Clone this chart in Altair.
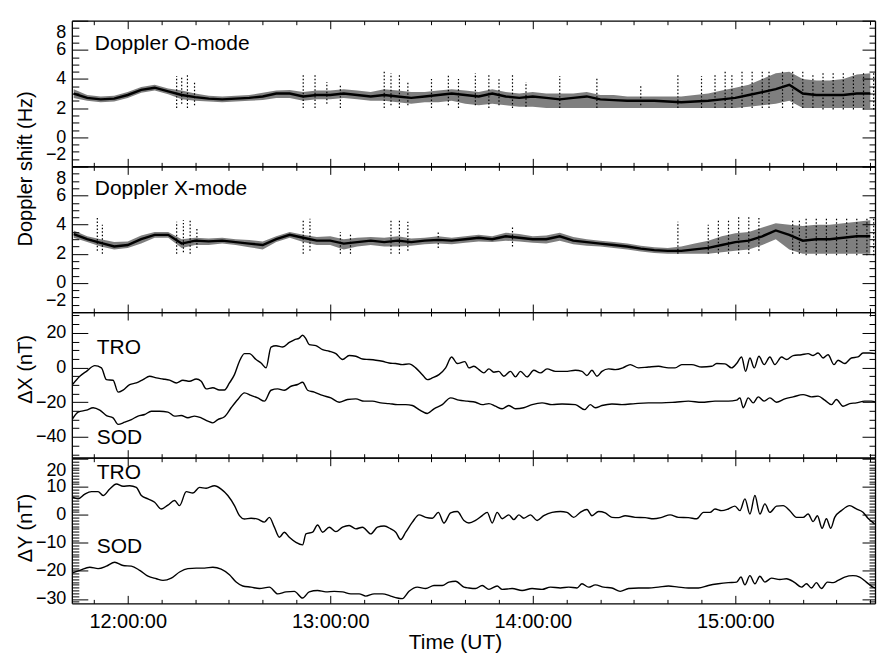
import altair as alt
import pandas as pd

FONT = "Liberation Sans"
W, H = 805, 146
T0, T1 = -16.55, 221.4   # minutes after 12:00 UT (plot edges)

# ---------------- Doppler shift (Hz), minutes after 12:00 UT ----------------
dop_t = [-16, -12, -8, -4, 0, 4, 8, 12, 16, 20, 24, 28, 32, 36, 40, 44, 48, 52, 56, 60,
         64, 68, 72, 76, 80, 84, 88, 92, 96, 100, 104, 108, 112, 116, 120, 124, 128, 132, 136, 140,
         144, 148, 152, 156, 160, 164, 168, 172, 176, 180, 184, 188, 192, 196, 200, 204, 208, 212, 216, 220]
# O-mode: trace centre and dense core of the scatter
o_mid = [3.0, 2.7, 2.6, 2.65, 2.9, 3.25, 3.4, 3.15, 2.9, 2.75, 2.65, 2.6, 2.65, 2.7, 2.8, 3.0, 3.0, 2.8, 2.9, 2.9,
         3.0, 2.9, 2.8, 2.9, 2.8, 2.7, 2.8, 2.9, 3.0, 2.9, 2.8, 3.0, 2.8, 2.7, 2.8, 2.7, 2.6, 2.7, 2.8, 2.6,
         2.55, 2.5, 2.5, 2.5, 2.45, 2.4, 2.45, 2.5, 2.6, 2.7, 2.9, 3.1, 3.3, 3.6, 3.0, 2.9, 2.9, 2.9, 3.0, 3.0]
o_lo = [2.7, 2.5, 2.4, 2.45, 2.7, 3.05, 3.2, 2.95, 2.6, 2.5, 2.45, 2.4, 2.45, 2.5, 2.55, 2.7, 2.7, 2.5, 2.6, 2.6,
        2.7, 2.6, 2.5, 2.5, 2.4, 2.3, 2.4, 2.4, 2.5, 2.3, 2.2, 2.3, 2.2, 2.1, 2.1, 2.0, 2.0, 2.0, 2.0, 2.0,
        2.0, 2.0, 2.0, 2.0, 2.0, 2.0, 2.0, 2.0, 2.0, 2.0, 2.1, 2.2, 2.3, 2.5, 2.0, 2.0, 2.0, 2.0, 2.0, 2.0]
o_hi = [3.3, 2.9, 2.8, 2.85, 3.1, 3.45, 3.6, 3.35, 3.2, 3.0, 2.85, 2.8, 2.85, 2.9, 3.05, 3.2, 3.25, 3.1, 3.2, 3.2,
        3.3, 3.2, 3.1, 3.3, 3.2, 3.1, 3.1, 3.2, 3.3, 3.2, 3.1, 3.3, 3.1, 3.0, 3.1, 3.0, 3.0, 3.0, 3.1, 2.9,
        2.9, 2.8, 2.8, 2.8, 2.8, 2.8, 2.9, 3.0, 3.2, 3.4, 3.6, 4.0, 4.4, 4.5, 4.0, 3.9, 3.9, 4.0, 4.3, 4.4]
# O-mode isolated spikes: time, bottom, top
o_sp_t = [14.5, 16, 17.7, 19.8, 52, 55.5, 59, 63, 76, 78, 80.5, 83, 90, 95, 98, 103, 107, 110, 114, 118,
          128, 139, 152, 163, 170, 174, 177, 179, 182, 185, 188, 190, 194, 197, 200, 203, 206, 209, 212, 215,
          218, 221]
o_sp_lo = [2.0, 2.3, 2.0, 2.2, 2.0, 2.0, 2.3, 2.0, 2.0, 2.2, 2.0, 2.2, 2.0, 2.2, 2.0, 2.2, 2.0, 2.2, 2.0, 2.1,
           2.0, 2.0, 2.2, 2.0, 2.0, 2.0, 2.0, 2.0, 2.0, 2.0, 2.0, 2.0, 2.0, 2.0, 2.0, 2.0, 1.9, 1.9, 1.9, 1.9,
           1.9, 1.9]
o_sp_hi = [4.2, 4.1, 4.3, 3.8, 4.4, 4.4, 3.8, 3.6, 4.5, 4.4, 4.4, 3.8, 4.0, 4.3, 4.0, 4.4, 4.3, 4.1, 4.4, 3.8,
           4.2, 4.1, 3.6, 4.4, 4.2, 4.4, 4.5, 4.3, 4.5, 4.5, 4.5, 4.5, 4.5, 4.5, 4.5, 4.4, 4.5, 4.4, 4.5, 4.5,
           4.5, 4.5]
# X-mode
x_mid = [3.35, 3.0, 2.75, 2.5, 2.6, 3.0, 3.3, 3.3, 2.7, 2.9, 2.85, 2.9, 2.8, 2.7, 2.6, 3.0, 3.3, 3.1, 2.9, 2.9,
         2.7, 2.8, 2.9, 2.8, 2.9, 2.8, 2.9, 2.95, 2.9, 3.0, 3.1, 3.0, 3.2, 3.1, 3.0, 3.0, 3.2, 2.9, 2.8, 2.7,
         2.6, 2.5, 2.35, 2.25, 2.2, 2.2, 2.3, 2.4, 2.6, 2.8, 2.9, 3.2, 3.6, 3.3, 2.9, 3.0, 3.0, 3.1, 3.2, 3.2]
x_lo = [3.1, 2.8, 2.5, 2.3, 2.4, 2.7, 3.1, 3.1, 2.4, 2.6, 2.6, 2.7, 2.6, 2.45, 2.3, 2.8, 3.1, 2.8, 2.6, 2.6,
        2.3, 2.5, 2.6, 2.5, 2.5, 2.55, 2.65, 2.7, 2.65, 2.75, 2.85, 2.8, 2.9, 2.85, 2.75, 2.7, 2.9, 2.65, 2.55, 2.5,
        2.4, 2.3, 2.15, 2.05, 2.0, 2.0, 2.0, 2.0, 2.1, 2.2, 2.3, 2.6, 3.0, 2.3, 2.0, 2.0, 2.0, 2.0, 2.0, 2.0]
x_hi = [3.6, 3.2, 3.0, 2.8, 2.85, 3.25, 3.5, 3.5, 3.0, 3.1, 3.05, 3.1, 3.0, 2.95, 2.85, 3.2, 3.5, 3.3, 3.15, 3.2,
        3.0, 3.1, 3.15, 3.1, 3.2, 3.05, 3.1, 3.2, 3.1, 3.2, 3.3, 3.2, 3.45, 3.35, 3.2, 3.25, 3.45, 3.15, 3.0, 2.9,
        2.8, 2.7, 2.55, 2.45, 2.4, 2.5, 2.7, 2.9, 3.2, 3.4, 3.5, 3.8, 4.1, 4.0, 3.9, 4.0, 4.0, 4.1, 4.2, 4.3]
x_sp_t = [-9, -7.5, 14.5, 16.5, 18.5, 20.5, 52, 54, 63, 66, 78, 80.5, 83, 92, 114, 163, 172, 175, 178, 181,
          184, 187, 197, 199, 201, 204, 207, 210, 213, 216, 219, 221]
x_sp_lo = [2.2, 2.0, 2.0, 2.1, 2.0, 2.4, 2.0, 2.2, 2.0, 2.0, 2.0, 2.0, 2.2, 2.4, 2.5, 2.0, 2.0, 2.0, 2.0, 2.0,
           2.0, 2.2, 2.0, 2.0, 1.9, 1.9, 1.9, 1.9, 1.9, 1.9, 1.9, 1.9]
x_sp_hi = [4.5, 4.0, 4.2, 4.3, 4.3, 3.8, 4.4, 4.4, 3.5, 3.4, 4.4, 4.4, 4.2, 3.6, 3.8, 4.2, 4.0, 4.4, 4.3, 4.5,
           4.5, 4.5, 4.4, 4.3, 4.5, 4.4, 4.5, 4.4, 4.5, 4.5, 4.5, 4.5]

# ---------------- Delta X (nT) ----------------
dx_tro_t = [-16.35, -14.18, -12.21, -9.75, -7.78, -6.30, -4.33, -2.85, -1.38, 0.59, 2.56, 4.53, 6.50, 8.48,
            10.45, 12.42, 14.39, 16.36, 18.33, 20.30, 21.78, 23.25, 25.22, 27.19, 28.67, 30.15, 31.63, 33.11,
            34.58, 36.06, 38.03, 39.51, 40.99, 42.46, 43.94, 45.91, 47.88, 49.36, 50.84, 51.82, 52.81, 53.79,
            55.76, 57.74, 59.71, 61.68, 63.65, 65.62, 67.59, 69.56, 71.53, 73.50, 75.47, 77.44, 79.41, 81.38,
            83.35, 85.32, 87.29, 88.77, 90.25, 92.22, 94.19, 95.96, 97.64, 99.90, 101.09, 102.57, 104.05,
            105.52, 107.00, 108.48, 109.96, 111.43, 113.41, 114.88, 116.36, 118.33, 120.30, 122.27, 124.24,
            126.71, 129.66, 132.62, 134.59, 136.06, 137.54, 139.02, 140.50, 142.47, 144.44, 146.90, 148.87,
            151.34, 154.29, 157.25, 160.20, 162.17, 164.14, 167.10, 170.05, 173.01, 174.49, 176.95, 178.92,
            180.40, 181.88, 183.06, 184.34, 185.62, 187.00, 188.57, 190.25, 191.73, 193.70, 195.18, 197.15,
            199.61, 201.58, 203.06, 204.54, 206.02, 207.49, 209.26, 210.45, 212.42, 214.39, 216.36, 217.84,
            219.81, 221.78]
dx_tro_v = [-9.8, -5, -2.2, 1.1, -0.2, -7, -7.3, -14.2, -13, -9.8, -8.9, -7, -5, -6,
            -6.6, -7.3, -8.9, -7.3, -7.9, -6.6, -7.9, -12.3, -11.7, -13, -13, -8.9, -4.1, 3.6,
            8, 8, 4.6, 2.6, -0.2, 11.8, 12.6, 11.8, 14.5, 16, 17, 18.6, 16.5, 13.2,
            12.6, 10.3, 9.4, 8, 4.6, 6.9, 6.5, 4.9, 4.6, 4.2, 3.6, 2.6, 2.3, 1.7,
            2.1, -0.2, -4.1, -7, -6, -4.1, -0.2, 6.1, 2.3, 3.4, -0.2, 0.7, -1.2,
            -3.1, -0.8, -2.7, -2.2, -5, -2.2, -5.4, -2.2, -5.4, -1.6, -3.1, -0.8,
            -2.2, -2.2, -1.6, -2.2, -4.6, -1.6, -5, -2.2, -0.8, -1.2, 0, 1.7,
            -0.2, 0.3, 0.7, -0.2, -0.2, 1.7, 1.7, 0.3, 0.7, 2.3, 2.1, -0.2,
            2.3, 6.1, -2.2, 5.5, -0.2, 6.5, 1.7, 6.1, 1.7, 6.1, 4.6, 6.9,
            7.4, 8, 6.9, 8.4, 5.5, 7.4, 1.7, 4.2, 2.3, 5.5, 6.1, 8.4,
            8.4, 8]
dx_sod_t = [-16.35, -14.68, -12.21, -10.24, -8.27, -6.30, -4.33, -2.85, -0.88, 1.09, 3.06, 5.03, 7.00, 9.46,
            11.92, 13.89, 15.86, 17.83, 19.81, 21.78, 23.75, 25.22, 26.70, 28.67, 30.64, 32.61, 34.58, 36.55,
            38.52, 40.49, 42.46, 44.44, 46.41, 48.38, 50.35, 51.82, 53.30, 55.27, 57.74, 60.20, 62.66, 65.12,
            67.59, 70.05, 72.51, 74.98, 77.44, 79.90, 82.37, 84.34, 86.31, 88.77, 90.74, 93.20, 95.67, 98.13,
            100.59, 103.06, 105.03, 107.00, 108.97, 110.94, 112.91, 114.88, 117.35, 119.81, 122.76, 125.72,
            128.68, 132.62, 135.37, 137.05, 138.53, 140.50, 143.45, 146.41, 150.35, 154.29, 158.23, 162.17,
            166.11, 170.05, 174.00, 177.94, 180.40, 181.38, 182.37, 183.85, 185.32, 186.80, 188.57, 190.25,
            192.22, 194.68, 197.15, 200.10, 202.57, 204.54, 206.51, 208.48, 209.95, 211.93, 213.90, 215.87,
            218.33, 220.30, 221.78]
dx_sod_v = [-29.6, -25.7, -24.6, -23.2, -24.6, -27.7, -29, -32.8, -31.5, -30, -28, -27.1, -25.2, -25.2,
            -25.7, -28, -27.7, -29, -28, -29, -30.9, -31.9, -30, -28.4, -23.2, -18.4, -14.6, -16.1,
            -17.5, -19.4, -13.1, -12.3, -13.1, -10.8, -9.8, -8.5, -13.1, -14.2, -16.1, -17.5, -20, -18.4,
            -18.1, -19.4, -19.4, -20.4, -20.8, -21.4, -21.4, -21.9, -24.3, -26.5, -23.8, -21.4, -17.5, -18.8,
            -19.4, -20, -21.4, -20.8, -22.3, -23.8, -21.9, -23.8, -23.2, -21.4, -20.4, -21.4,
            -21, -21.4, -24.3, -21.4, -23.2, -21.9, -21, -21.4, -20.8, -20.4, -20.4, -20,
            -19.4, -20, -19.4, -19.4, -18.8, -17.5, -23.2, -17.5, -20.4, -16.9, -19.4, -17.5,
            -20, -18.1, -16.9, -15.6, -16.9, -16.5, -18.8, -21.4, -18.4, -22.3, -20.8, -20.4,
            -19.4, -19.4, -20]

# ---------------- Delta Y (nT) ----------------
dy_tro_t = [-16.35, -14.68, -12.71, -10.74, -8.77, -7.29, -5.32, -3.35, -1.38, 0.59, 2.56, 4.04, 6.01, 7.98,
            9.95, 11.92, 13.89, 15.37, 17.34, 19.31, 21.28, 23.25, 25.72, 27.69, 29.66, 31.63, 33.11, 34.58,
            36.55, 38.52, 40.49, 41.97, 43.45, 44.93, 46.41, 47.88, 49.85, 51.82, 52.81, 54.78, 56.26, 57.74,
            59.71, 61.68, 63.65, 65.62, 67.59, 69.56, 72.02, 73.99, 75.96, 77.93, 79.41, 80.89, 82.37, 84.34,
            86.31, 88.28, 90.25, 92.02, 93.70, 95.67, 97.64, 99.61, 101.09, 103.06, 105.03, 106.51, 107.99,
            109.46, 110.94, 112.91, 114.39, 115.87, 117.35, 119.32, 121.29, 123.26, 125.72, 128.18, 130.15,
            132.12, 134.09, 136.06, 137.54, 139.51, 141.48, 143.45, 145.42, 147.39, 150.35, 153.31, 155.77,
            158.23, 160.69, 163.16, 166.11, 168.58, 170.55, 172.52, 174.00, 175.97, 177.94, 179.91, 181.38,
            182.86, 184.34, 185.82, 187.30, 188.77, 190.25, 192.22, 194.19, 196.16, 198.13, 200.10, 201.58,
            203.06, 204.34, 205.72, 207.00, 208.28, 209.46, 211.43, 213.90, 215.87, 217.84, 219.31, 221.28]
dy_tro_v = [6.3, 5.7, 7.4, 8.3, 8.3, 6.9, 9.2, 11, 10.2, 10.4, 9.8, 6.9, 5.7, 4.5,
            2.1, 3.5, 5.1, 3.3, 8.3, 7.8, 9.8, 9.5, 10.4, 9.2, 6.9, 3.3, -0.3, -1.5,
            -1.2, -1.5, -2.6, -0.9, -4.4, -8, -6.2, -8, -9.8, -10.7, -6.8, -6.2, -3.6, -6.2,
            -4.4, -6, -4.4, -3.8, -5, -4.4, -6.8, -4.4, -4, -5, -6.2, -8.8, -6.2, -2.6,
            0, -0.9, -1.2, 0.9, -2.9, 0.7, 1.2, -2, -2.9, -2, -0.3, 0.9, -2.9,
            0.9, -1.4, 0, -1.7, 0, -1.2, 0, -2, -0.3, 0.9, 1.2, 0.9,
            -0.9, 0.9, 1.9, -0.3, 1.2, 0.7, -0.9, -1, -0.3, -0.9, -1, -1.4,
            -0.9, 0, -0.9, -1, -1.4, 0.9, 0.9, 2.1, 1.5, 2.1, 3.1, 1.5,
            5.7, 0.3, 6.9, 0.3, 3.9, 0.9, 3.1, 3.3, 1.5, -0.9, -0.9, 0.3,
            -2.4, -0.3, -4.8, -1.4, -4.8, -0.9, 1.5, 3.3, 2.1, 0.9, -1.2, -3.2]
dy_sod_t = [-16.35, -14.18, -11.23, -8.77, -6.30, -3.84, -1.38, 1.09, 3.55, 6.01, 8.48, 10.45, 12.91, 15.37,
            17.83, 20.30, 22.76, 25.22, 27.69, 30.15, 32.12, 34.09, 36.55, 39.02, 41.97, 44.44, 46.90, 49.36,
            51.82, 53.79, 56.26, 58.72, 61.18, 63.65, 66.11, 68.57, 70.54, 73.01, 75.47, 77.93, 79.90, 81.38,
            83.35, 85.81, 88.28, 90.74, 93.20, 95.17, 97.14, 99.61, 101.09, 103.06, 105.03, 107.00, 109.46,
            110.94, 113.90, 116.85, 119.81, 122.76, 125.23, 128.18, 130.65, 133.11, 134.59, 136.56, 138.53,
            140.99, 143.45, 145.92, 148.38, 151.34, 154.29, 157.25, 160.20, 163.16, 166.11, 169.07, 172.02,
            174.98, 177.94, 180.40, 181.68, 182.86, 184.34, 185.82, 187.30, 188.77, 190.74, 193.21, 195.18,
            197.64, 199.61, 201.09, 202.57, 204.04, 205.52, 207.29, 208.97, 210.45, 212.42, 214.88, 216.85,
            218.82, 220.79, 222.07]
dy_sod_v = [-20.7, -19.8, -18.7, -19.2, -18.3, -16.9, -18.1, -18.3, -19.8, -21.9, -22.8, -23.4, -22.6, -20.4,
            -19.2, -19, -19, -18.7, -19.4, -21.4, -24, -25.4, -25.8, -26.3, -25.8, -28.2, -27.5, -27.3,
            -29.7, -27.5, -27, -27.5, -27.3, -27.5, -28.2, -28.2, -29, -28.2, -28.2, -29, -29.7, -29.9,
            -27.3, -25.8, -26.3, -25.2, -25.2, -24, -23.7, -25.8, -26.1, -26.3, -25.2, -26.6, -25.4,
            -26.6, -26.3, -27, -26.3, -26.6, -25.8, -26.1, -25.8, -26.1, -24.6, -25.8, -25,
            -25.8, -26.1, -27.3, -26.3, -26.1, -26.1, -25.8, -25.4, -25.8, -26.1, -26.1, -25.2,
            -24.6, -24.2, -24, -22.2, -25, -21.7, -24.6, -21.9, -24, -22.6, -23.1, -22.8,
            -24.2, -25.8, -24.6, -26.1, -24.2, -26.3, -24, -24.2, -23.4, -22.2, -21.7, -22.2,
            -24, -25.8, -26.3]

# ---------------- axis tick positions ----------------
x_major = [0, 60, 120, 180]
x_minor = [-10, 0, 10, 20, 30, 40, 50, 60, 70, 80, 90, 100, 110, 120, 130, 140, 150,
           160, 170, 180, 190, 200, 210, 220]
dop_major = [-2, 0, 2, 4, 6, 8]
dop_minor = [-2, -1.5, -1, -0.5, 0, 0.5, 1, 1.5, 2, 2.5, 3, 3.5, 4, 4.5, 5, 5.5, 6, 6.5, 7, 7.5, 8]
dx_major = [-40, -20, 0, 20]
dx_minor = [-50, -45, -40, -35, -30, -25, -20, -15, -10, -5, 0, 5, 10, 15, 20, 25, 30]
dy_major = [-30, -20, -10, 0, 10, 20]
dy_minor = list(range(-31, 21))

LBL = 18
xscale = alt.Scale(domain=[T0, T1], nice=False, zero=False)
AX = dict(labelFont=FONT, labelFontSize=LBL, labelColor="black", titleFont=FONT, titleFontSize=20,
          titleFontWeight="normal", titleColor="black", tickColor="black", domainColor="black",
          tickWidth=1, grid=False, labelOverlap=False)


def tsize(step, big, small):
    return {"condition": {"test": f"abs(datum.value % {step}) < 0.001", "value": big}, "value": small}


def carriers(ydom, ymaj, ymin, ystep, ytitle=None, title_y=None, xlabels=False):
    df = pd.DataFrame({"t": [T0, T1], "v": ydom})
    ys = alt.Scale(domain=ydom, nice=False, zero=False)
    xkw = dict(AX, orient="bottom", values=x_major, ticks=False, tickSize=0, domain=True,
               domainWidth=1.3, labels=xlabels)
    if xlabels:
        xkw.update(labelExpr="(12 + datum.value/60) + ':00:00'", labelPadding=8, labelFontSize=20,
                   title="Time (UT)", titleX=384, titleY=39, titleBaseline="middle", titleFontSize=21)
    else:
        xkw.update(title=None)
    ykw = dict(AX, orient="left", values=ymaj, ticks=False, tickSize=0, domain=True, domainWidth=1.3,
               labelFlush=2, labelFlushOffset=-3, labelPadding=6)
    if ytitle:
        ykw.update(title=ytitle, titleX=-46, titleY=title_y, titleBaseline="middle", titleAngle=270)
    else:
        ykw.update(title=None)
    a = alt.Chart(df).mark_point(opacity=0).encode(
        x=alt.X("t:Q", scale=xscale, axis=alt.Axis(**xkw)),
        y=alt.Y("v:Q", scale=ys, axis=alt.Axis(**ykw)))
    b = alt.Chart(df).mark_point(opacity=0).encode(
        x=alt.X("t:Q", scale=xscale, axis=alt.Axis(**AX, orient="bottom", offset=-H, values=x_minor,
                                                  labels=False, tickSize=tsize(60, 8, 4), domain=True,
                                                  domainWidth=1.3, title=None)),
        y=alt.Y("v:Q", scale=ys, axis=alt.Axis(**AX, orient="left", offset=-W, values=ymin, labels=False,
                                              tickSize=tsize(ystep, 13, 6), domain=True, domainWidth=1.3,
                                              title=None)))
    c = alt.Chart(df).mark_point(opacity=0).encode(
        x=alt.X("t:Q", scale=xscale, axis=alt.Axis(**AX, orient="top", offset=-H, values=x_minor,
                                                  labels=False, tickSize=tsize(60, 8, 4), domain=False,
                                                  title=None)),
        y=alt.Y("v:Q", scale=ys, axis=alt.Axis(**AX, orient="right", offset=-W, values=ymin, labels=False,
                                              tickSize=tsize(ystep, 16, 7), domain=False, title=None)))
    return [a, b, c], ys


def label(text, px, py):
    return alt.Chart(alt.Data(values=[{"s": text}])).mark_text(
        align="left", baseline="middle", font=FONT, fontSize=21, color="black"
    ).encode(text="s:N", x=alt.value(px), y=alt.value(py))


def doppler_panel(mid, lo, hi, sp_t, sp_lo, sp_hi, ydom, name, ytitle=None, title_y=None):
    df = pd.DataFrame({"t": dop_t, "mid": mid, "lo": lo, "hi": hi})
    sp = pd.DataFrame({"t": sp_t, "lo": sp_lo, "hi": sp_hi})
    axes, ys = carriers(ydom, dop_major, dop_minor, 2, ytitle, title_y)
    band = alt.Chart(df).mark_area(color="black", opacity=0.5, clip=True).encode(
        x=alt.X("t:Q", scale=xscale, axis=None),
        y=alt.Y("lo:Q", scale=ys, axis=None),
        y2="hi:Q")
    spikes = alt.Chart(sp).mark_rule(color="black", strokeWidth=1.2, strokeDash=[1.5, 2], clip=True).encode(
        x=alt.X("t:Q", scale=xscale, axis=None),
        y=alt.Y("lo:Q", scale=ys, axis=None),
        y2="hi:Q")
    line = alt.Chart(df).mark_line(color="black", strokeWidth=2.4, clip=True).encode(
        x=alt.X("t:Q", scale=xscale, axis=None),
        y=alt.Y("mid:Q", scale=ys, axis=None))
    return alt.layer(*axes, band, spikes, line, label(name, 23, 23)).resolve_axis(
        x="independent", y="independent").properties(width=W, height=H)


def mag_panel(t1, v1, t2, v2, ydom, ymaj, ymin, ystep, ytitle, title_y, pos, xlabels=False):
    axes, ys = carriers(ydom, ymaj, ymin, ystep, ytitle, title_y, xlabels)
    d1 = pd.DataFrame({"t": t1, "v": v1})
    d2 = pd.DataFrame({"t": t2, "v": v2})
    l1 = alt.Chart(d1).mark_line(color="black", strokeWidth=1.4, interpolate="monotone", clip=True).encode(
        x=alt.X("t:Q", scale=xscale, axis=None), y=alt.Y("v:Q", scale=ys, axis=None))
    l2 = alt.Chart(d2).mark_line(color="black", strokeWidth=1.4, interpolate="monotone", clip=True).encode(
        x=alt.X("t:Q", scale=xscale, axis=None), y=alt.Y("v:Q", scale=ys, axis=None))
    return alt.layer(*axes, l1, l2, label("TRO", 25, pos[0]), label("SOD", 25, pos[1])).resolve_axis(
        x="independent", y="independent").properties(width=W, height=H)


p1 = doppler_panel(o_mid, o_lo, o_hi, o_sp_t, o_sp_lo, o_sp_hi, [-2, 8], "Doppler O-mode",
                   "Doppler shift (Hz)", 148)
p2 = doppler_panel(x_mid, x_lo, x_hi, x_sp_t, x_sp_lo, x_sp_hi, [-2, 8], "Doppler X-mode")
p3 = mag_panel(dx_tro_t, dx_tro_v, dx_sod_t, dx_sod_v, [-52, 32], dx_major, dx_minor, 20,
               "ΔX (nT)", 57, (36, 126))
p4 = mag_panel(dy_tro_t, dy_tro_v, dy_sod_t, dy_sod_v, [-31.6, 20.4], dy_major, dy_minor, 10,
               "ΔY (nT)", 70, (15, 90), xlabels=True)

chart = alt.vconcat(p1, p2, p3, p4, spacing=0, bounds="flush").properties(
    padding={"left": 16, "top": 17, "right": 2, "bottom": 2},
    background="white"
).configure_view(stroke=None).configure_axis(
    labelFont=FONT, labelFontSize=LBL, labelColor="black",
    titleFont=FONT, titleFontSize=20, titleFontWeight="normal", titleColor="black",
    tickColor="black", domainColor="black", tickWidth=1, grid=False, labelOverlap=False
)

chart.save("out.html", embed_options={"renderer": "svg", "actions": False})
